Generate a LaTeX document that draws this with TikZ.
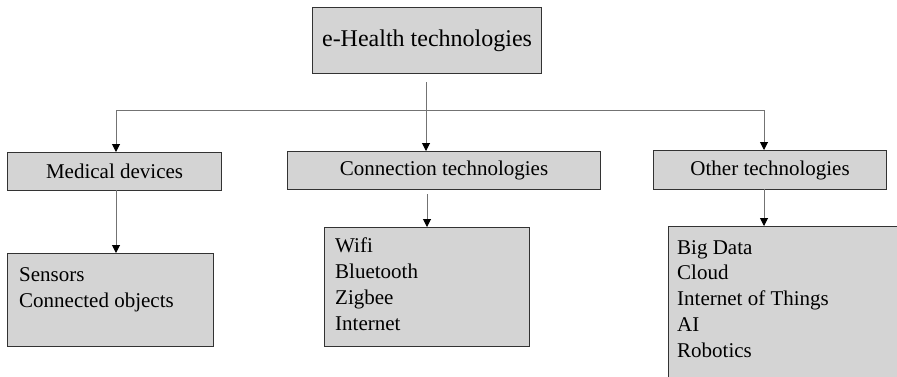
\documentclass[tikz,border=0pt]{standalone}
\usepackage{fontspec}
\setmainfont{Liberation Serif}
\usetikzlibrary{arrows.meta}
\tikzset{
  box/.style={draw=black!80, fill=black!17, line width=1.1pt, inner sep=0pt, anchor=north west},
  lbl/.style={inner sep=0pt, font=\fontsize{21}{25.7}\selectfont},
  items/.style={inner sep=0pt, anchor=base west, align=left, font=\fontsize{21}{25.7}\selectfont},
  conn/.style={draw=black!55, line width=1pt},
  arr/.style={conn, -{Triangle[length=8pt,width=8pt,fill=black,color=black]}}
}
\begin{document}
\begin{tikzpicture}[x=1pt,y=-1pt]
\useasboundingbox (0,0) rectangle (897,376);
\begin{scope}
\clip (0,0) rectangle (897,376);
% boxes
\node[box, minimum width=229pt, minimum height=66pt] (top) at (312,7) {};
\node[lbl, font=\fontsize{24}{28}\selectfont] (toptxt) at (top.center) {e-Health technologies};
\node[box, minimum width=214pt, minimum height=38pt] (md) at (7,152) {};
\node[lbl] (mdtxt) at (md.center) {Medical devices};
\node[box, minimum width=313pt, minimum height=38pt] (ct) at (287,151) {};
\node[lbl] (cttxt) at (ct.center) {Connection technologies};
\node[box, minimum width=233pt, minimum height=39pt] (ot) at (653,150) {};
\node[lbl] (ottxt) at (ot.center) {Other technologies};
\node[box, minimum width=206pt, minimum height=93pt] (sb) at (7,253) {};
\node[box, minimum width=205pt, minimum height=119pt] (wb) at (324,227) {};
\node[box, minimum width=240pt, minimum height=160pt] (ob) at (668,226) {};
\end{scope}
% list texts (base anchor = baseline of last line)
\node[items] (sbtxt) at (19,307) {Sensors\\Connected objects};
\node[items] (wbtxt) at (335,330) {Wifi\\Bluetooth\\Zigbee\\Internet};
\node[items] (obtxt) at (677,357) {Big Data\\Cloud\\Internet of Things\\AI\\Robotics};
% connectors
\coordinate (jc) at (426,110);
\coordinate (jl) at (116,110);
\coordinate (jr) at (764,110);
\draw[conn] (426,82) -- (jc);
\draw[conn] (jl) -- (jr);
\draw[arr] (jl) -- (jl |- md.north);
\draw[arr] (jc) -- (jc |- ct.north);
\draw[arr] (jr) -- (jr |- ot.north);
\draw[arr] (116,190) -- (116,253);
\draw[arr] (427,194) -- (427,227);
\draw[arr] (764,189) -- (764,226);
\end{tikzpicture}
\end{document}
